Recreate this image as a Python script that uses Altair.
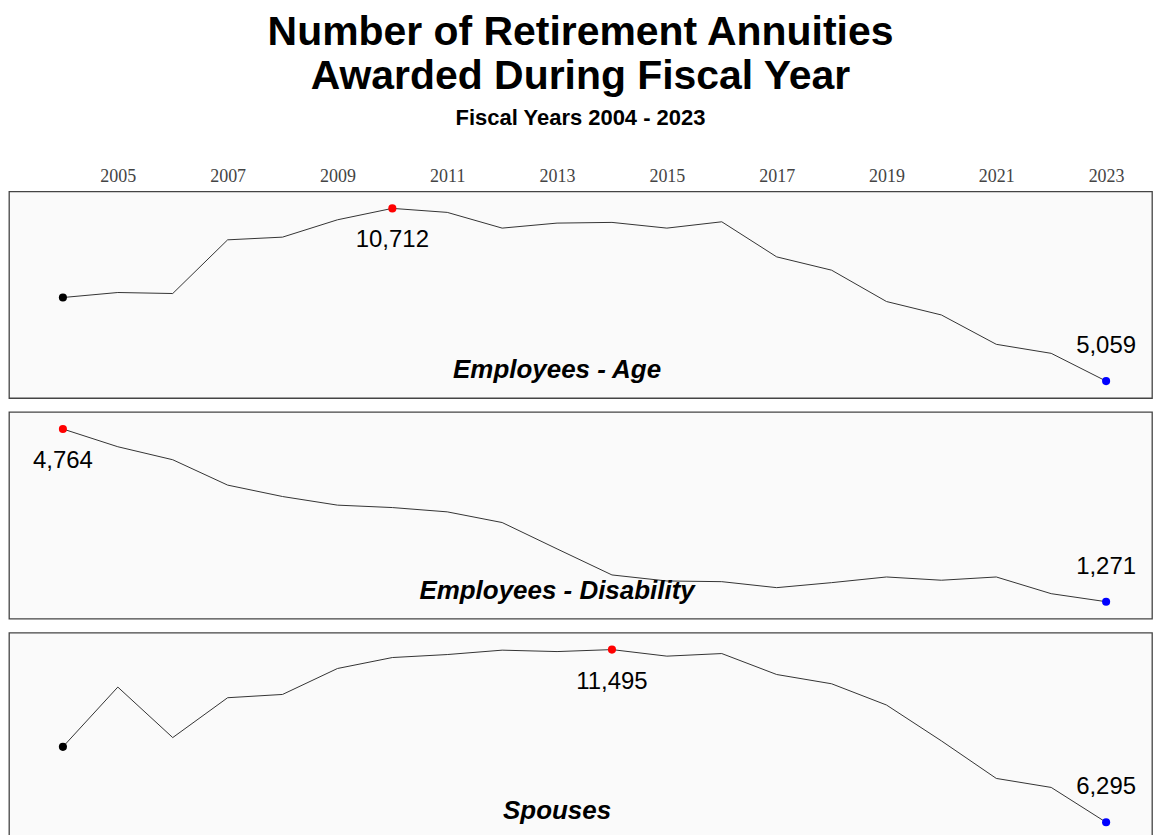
import altair as alt
import pandas as pd

years = list(range(2004, 2024))
categories = ["Employees - Age", "Employees - Disability", "Spouses"]
age = [7794, 7958, 7925, 9682, 9771, 10338, 10712, 10581, 10066, 10230,
       10253, 10066, 10273, 9125, 8689, 7663, 7223, 6262, 5967, 5059]
disability = [4764, 4405, 4142, 3629, 3398, 3224, 3175, 3088, 2872, 2339,
              1812, 1690, 1676, 1555, 1656, 1771, 1705, 1771, 1433, 1271]
spouses = [8567, 10367, 8846, 10046, 10145, 10926, 11256, 11346, 11478, 11436,
           11495, 11298, 11376, 10745, 10466, 9827, 8747, 7616, 7345, 6295]
tick_years = [2005, 2007, 2009, 2011, 2013, 2015, 2017, 2019, 2021, 2023]
series = [age, disability, spouses]

W = 1145
H = 207
TITLE_YEAR = 2013


def panel(name, values, top_axis):
    df = pd.DataFrame({"year": years, "value": values})
    imax = int(df["value"].idxmax())
    df["role"] = "none"
    df.loc[0, "role"] = "first"
    df.loc[len(df) - 1, "role"] = "last"
    df.loc[imax, "role"] = "max"
    df["label"] = df["value"].map(lambda v: f"{v:,}")

    if top_axis:
        xaxis = alt.Axis(orient="top", values=tick_years, format="d",
                         labelFont="Liberation Serif", labelFontSize=18,
                         labelColor="#444", ticks=False, tickSize=0,
                         domain=False, grid=False, labelPadding=6, title=None)
    else:
        xaxis = None
    x = alt.X("year:Q", scale=alt.Scale(domain=[2003.018, 2023.836], nice=False, zero=False),
              axis=xaxis)
    y = alt.Y("value:Q", scale=alt.Scale(zero=False, nice=False, padding=17), axis=None)

    base = alt.Chart(df).encode(x=x, y=y)
    line = base.mark_line(color="#333", strokeWidth=1)
    pts = base.transform_filter("datum.role != 'none'").mark_circle(size=66, opacity=1).encode(
        color=alt.Color("role:N",
                        scale=alt.Scale(domain=["first", "max", "last"],
                                        range=["#000000", "#ff0000", "#0000ff"]),
                        legend=None))
    lab_max = base.transform_filter("datum.role == 'max'").mark_text(
        dy=39, baseline="alphabetic", fontSize=24, font="Liberation Sans", color="black"
    ).encode(text="label:N")
    lab_last = base.transform_filter("datum.role == 'last'").mark_text(
        dy=-28, baseline="alphabetic", fontSize=24, font="Liberation Sans", color="black"
    ).encode(text="label:N")
    tdf = pd.DataFrame({"year": [TITLE_YEAR], "t": [name]})
    ttl = alt.Chart(tdf).mark_text(
        fontSize=26, fontWeight="bold", fontStyle="italic", font="Liberation Sans",
        baseline="alphabetic", color="black"
    ).encode(x=x, y=alt.value(H - 20), text="t:N")
    return alt.layer(line, pts, lab_max, lab_last, ttl).properties(width=W, height=H)


panels = [panel(c, v, i == 0) for i, (c, v) in enumerate(zip(categories, series))]

chart = alt.vconcat(*panels, spacing=12).properties(
    title=alt.TitleParams(
        text=["Number of Retirement Annuities", "Awarded During Fiscal Year"],
        subtitle="Fiscal Years 2004 - 2023",
        anchor="middle", font="Liberation Sans", fontSize=41, fontWeight="bold",
        lineHeight=44, color="black",
        subtitleFont="Liberation Sans", subtitleFontSize=22, subtitleFontWeight="bold",
        subtitleColor="black", subtitlePadding=10, offset=37),
    padding={"left": 0, "top": 3, "right": 0, "bottom": 0},
).configure_view(fill="#fafafa", stroke="#444", strokeWidth=1.3)

chart.save("out.html", embed_options={"renderer": "svg", "actions": False})
